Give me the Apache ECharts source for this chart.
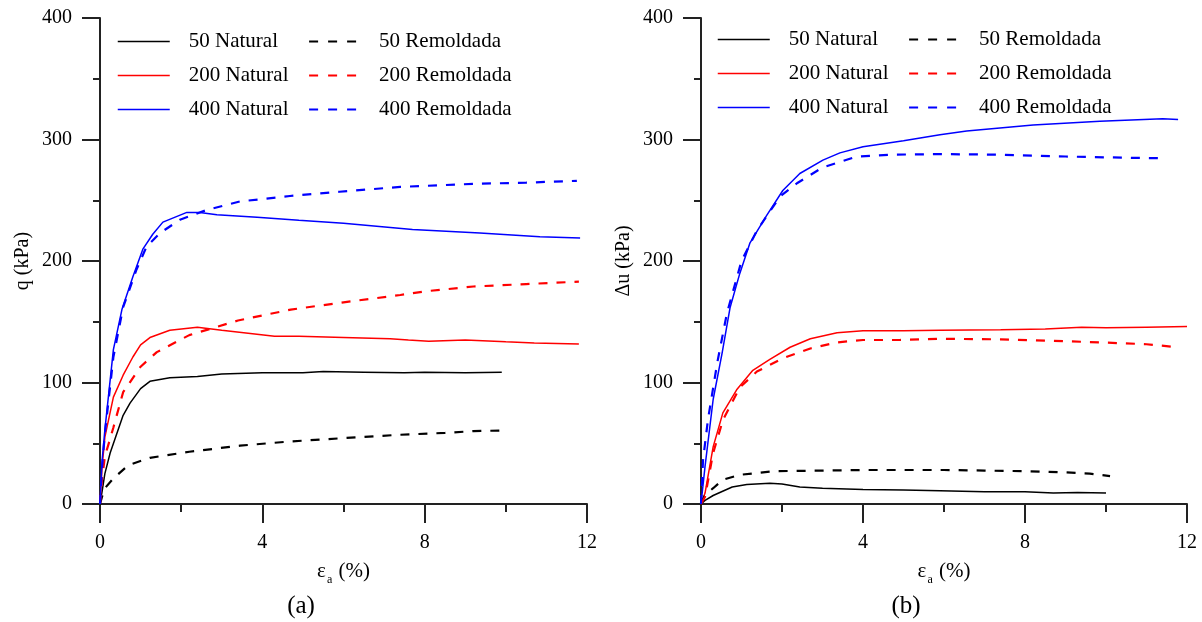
<!DOCTYPE html>
<html>
<head>
<meta charset="utf-8">
<script src="https://cdn.jsdelivr.net/npm/echarts@6/dist/echarts.min.js"></script>
<style>
html,body{margin:0;padding:0;background:#fff;}
#chart{width:1202px;height:622px;}
</style>
</head>
<body>
<div id="chart"></div>
<script>
// ---- tick labels / axes ----
const xTicks = [0, 4, 8, 12];
const yTicks = [0, 100, 200, 300, 400];

// ---- panel (a): q (kPa) vs axial strain (%) ----
const aNat50X = [0, 0.05, 0.12, 0.25, 0.57, 0.74, 1.0, 1.23, 1.72, 2.4, 3.0, 4.0, 5.0, 5.5, 6.5, 7.5, 8.0, 9.0, 9.9];
const aNat50Y = [0, 10, 25, 42, 73, 83, 95, 101, 104, 105, 107, 108, 108, 109, 108.5, 108, 108.5, 108, 108.5];
const aRem50X = [0, 0.05, 0.12, 0.33, 0.7, 1.23, 2.2, 3.45, 4.7, 5.9, 7.4, 8.5, 9.2, 9.9];
const aRem50Y = [0, 6, 13, 21, 32, 38, 43, 48, 51.5, 54, 57, 58.5, 60, 60.5];
const aNat200X = [0, 0.05, 0.12, 0.33, 0.57, 0.81, 1.0, 1.23, 1.72, 2.4, 3.0, 4.3, 4.9, 6.0, 7.15, 7.6, 8.1, 9.0, 10.0, 10.7, 11.8];
const aNat200Y = [0, 30, 55, 88, 106, 121, 131, 137, 143, 145.5, 143, 138, 138, 137, 136, 135, 134, 135, 133.5, 132.6, 131.7];
const aRem200X = [0, 0.05, 0.12, 0.33, 0.57, 1.0, 1.4, 2.2, 3.4, 4.7, 6.0, 7.4, 8.0, 9.2, 10.5, 11.8];
const aRem200Y = [0, 20, 39, 63, 92, 113, 125, 139, 151, 160, 166, 172, 175, 179, 181, 183];
const aNat400X = [0, 0.05, 0.12, 0.33, 0.54, 0.81, 1.06, 1.3, 1.55, 2.14, 2.46, 2.88, 3.87, 4.9, 6.0, 7.7, 9.36, 10.84, 11.83];
const aNat400Y = [0, 35, 61, 127, 160, 187, 210, 222, 232, 240, 240, 238, 236, 233.5, 231, 226, 223, 220, 219];
const aRem400X = [0, 0.05, 0.12, 0.33, 0.57, 0.9, 1.15, 1.48, 1.97, 2.63, 3.45, 4.68, 5.9, 7.4, 9.2, 10.5, 11.75];
const aRem400Y = [0, 30, 58, 121, 162, 193, 212, 223, 234, 242, 249, 253.5, 257, 261, 263.5, 264.5, 266];

// ---- panel (b): Δu (kPa) vs axial strain (%) ----
const bNat50X = [0, 0.1, 0.3, 0.77, 1.13, 1.7, 2.0, 2.44, 3.0, 4.0, 5.0, 5.9, 7.0, 8.0, 8.7, 9.3, 10.0];
const bNat50Y = [0, 3, 7, 14, 16, 17, 16.5, 14, 13, 12, 11.5, 11, 10, 10, 9, 9.5, 9];
const bRem50X = [0, 0.1, 0.3, 0.54, 0.96, 1.78, 3.0, 4.0, 5.0, 6.0, 7.0, 8.0, 9.0, 9.6, 10.1];
const bRem50Y = [0, 7.4, 13, 20, 24, 27, 27.5, 28, 28, 28, 27.5, 27, 26, 25, 23];
const bNat200X = [0, 0.1, 0.3, 0.54, 0.88, 1.28, 1.7, 2.2, 2.7, 3.36, 4.0, 5.0, 5.9, 7.4, 8.5, 9.4, 10.0, 11.0, 12.0];
const bNat200Y = [0, 9, 47, 75, 94, 110, 119, 129, 136, 141, 142.5, 142.5, 143, 143.5, 144, 145.5, 145, 145.5, 146];
const bRem200X = [0, 0.1, 0.3, 0.54, 0.96, 1.38, 2.02, 2.7, 3.36, 4.0, 4.9, 5.9, 7.4, 8.5, 9.85, 11.0, 11.78];
const bRem200Y = [0, 6, 42, 69, 96, 109, 120, 128, 133, 135, 135, 136, 135.5, 134.5, 133, 131.5, 129];
const bNat400X = [0, 0.1, 0.3, 0.52, 0.72, 0.96, 1.21, 1.63, 2.02, 2.44, 3.01, 3.43, 4.0, 5.0, 5.9, 6.56, 8.2, 9.85, 11.4, 11.78];
const bNat400Y = [0, 31, 86, 124, 162, 190, 215, 238, 258, 272, 283, 289, 294, 299, 304, 307, 312, 315, 317, 316.5];
const bRem400X = [0, 0.05, 0.17, 0.4, 0.64, 1.0, 1.38, 1.95, 2.37, 3.0, 3.85, 4.67, 5.9, 7.4, 9.0, 10.5, 11.5];
const bRem400Y = [0, 36, 69, 116, 157, 200, 225, 253, 264, 277, 286, 287.5, 288, 287.5, 286, 285, 284.5];

const natNames = ['50 Natural', '200 Natural', '400 Natural'];
const remNames = ['50 Remoldada', '200 Remoldada', '400 Remoldada'];
const colors = ['#000000', '#ff0000', '#0000ff'];
const panelLabels = ['(a)', '(b)'];
const yNames = ['q (kPa)', '\u0394u (kPa)'];

function zip(xs, ys) { return xs.map((x, i) => [x, ys[i]]); }

const FONT = '"Liberation Serif", "Times New Roman", serif';
const AX = '#222';
const DASH = [9, 9];

function mkSeries(name, xs, ys, idx, color, dashed) {
  return {
    type: 'line', name: name, xAxisIndex: idx, yAxisIndex: idx,
    data: zip(xs, ys), symbol: 'none', showSymbol: false, smooth: false, animation: false,
    lineStyle: { color: color, width: dashed ? 2.2 : 1.5, type: dashed ? DASH : 'solid' },
    itemStyle: { color: color }
  };
}

const series = [
  mkSeries(natNames[0], aNat50X, aNat50Y, 0, colors[0], false),
  mkSeries(natNames[1], aNat200X, aNat200Y, 0, colors[1], false),
  mkSeries(natNames[2], aNat400X, aNat400Y, 0, colors[2], false),
  mkSeries(remNames[0], aRem50X, aRem50Y, 0, colors[0], true),
  mkSeries(remNames[1], aRem200X, aRem200Y, 0, colors[1], true),
  mkSeries(remNames[2], aRem400X, aRem400Y, 0, colors[2], true),
  mkSeries(natNames[0], bNat50X, bNat50Y, 1, colors[0], false),
  mkSeries(natNames[1], bNat200X, bNat200Y, 1, colors[1], false),
  mkSeries(natNames[2], bNat400X, bNat400Y, 1, colors[2], false),
  mkSeries(remNames[0], bRem50X, bRem50Y, 1, colors[0], true),
  mkSeries(remNames[1], bRem200X, bRem200Y, 1, colors[1], true),
  mkSeries(remNames[2], bRem400X, bRem400Y, 1, colors[2], true)
];

const grids = [
  { left: 100, top: 18, width: 487, height: 486 },
  { left: 701, top: 18, width: 486, height: 486 }
];

function xAxis(i) {
  return {
    type: 'value', gridIndex: i, min: xTicks[0], max: xTicks[xTicks.length - 1], interval: xTicks[1] - xTicks[0],
    name: '{e|\u03b5}{s|a}{e| (%)}', nameLocation: 'middle', nameGap: 56,
    nameTextStyle: { rich: {
      e: { fontFamily: FONT, fontSize: 21, color: '#000', verticalAlign: 'bottom', lineHeight: 22 },
      s: { fontFamily: FONT, fontSize: 12, color: '#000', verticalAlign: 'bottom', lineHeight: 14, padding: [0, 1, -4, 1] }
    } },
    axisLine: { show: true, onZero: false, lineStyle: { color: AX, width: 2 } },
    axisTick: { show: true, inside: false, length: 19, lineStyle: { color: AX, width: 2 } },
    minorTick: { show: true, splitNumber: 2, length: 8, lineStyle: { color: AX, width: 2 } },
    axisLabel: { margin: 29, fontFamily: FONT, fontSize: 20, color: '#000' },
    splitLine: { show: false }, minorSplitLine: { show: false }
  };
}
function yAxis(i) {
  return {
    type: 'value', gridIndex: i, min: yTicks[0], max: yTicks[yTicks.length - 1], interval: yTicks[1] - yTicks[0],
    name: yNames[i], nameLocation: 'middle', nameGap: 67, nameRotate: 90,
    nameTextStyle: { fontFamily: FONT, fontSize: 20, color: '#000' },
    axisLine: { show: true, onZero: false, lineStyle: { color: AX, width: 2 } },
    axisTick: { show: true, inside: false, length: 18, lineStyle: { color: AX, width: 2 } },
    minorTick: { show: true, splitNumber: 2, length: 7, lineStyle: { color: AX, width: 2 } },
    axisLabel: { margin: 28, fontFamily: FONT, fontSize: 20, color: '#000' },
    splitLine: { show: false }, minorSplitLine: { show: false }
  };
}

function legend(names, dashed, left, top) {
  return {
    data: names.map((n, k) => ({
      name: n,
      lineStyle: { color: colors[k], width: dashed ? 2.2 : 1.5, type: dashed ? [9, 10] : 'solid' }
    })),
    orient: 'vertical', left: left, top: top,
    itemWidth: 49, itemHeight: 14, itemGap: 13, padding: 0,
    selectedMode: false,
    itemStyle: { opacity: 0 },
    textStyle: { fontFamily: FONT, fontSize: 21, color: '#000', lineHeight: 20, padding: [0, 0, 0, 16] }
  };
}

const option = {
  backgroundColor: '#fff',
  animation: false,
  grid: grids,
  xAxis: [xAxis(0), xAxis(1)],
  yAxis: [yAxis(0), yAxis(1)],
  legend: [
    Object.assign(legend(natNames, false, 117, 31), { itemWidth: 52, textStyle: { fontFamily: FONT, fontSize: 21, color: '#000', lineHeight: 20, padding: [0, 0, 0, 14] } }),
    legend(remNames, true, 308, 31),
    Object.assign(legend(natNames, false, 717, 29), { itemWidth: 52, textStyle: { fontFamily: FONT, fontSize: 21, color: '#000', lineHeight: 20, padding: [0, 0, 0, 14] } }),
    legend(remNames, true, 908, 29)
  ],
  graphic: [
    { type: 'text', x: 301, y: 606, style: { text: panelLabels[0], font: '25px ' + FONT, fill: '#000', textAlign: 'center', textVerticalAlign: 'middle' } },
    { type: 'text', x: 906, y: 606, style: { text: panelLabels[1], font: '25px ' + FONT, fill: '#000', textAlign: 'center', textVerticalAlign: 'middle' } }
  ],
  series: series
};

const chart = echarts.init(document.getElementById('chart'), null, { renderer: 'canvas' });
chart.setOption(option);
</script>
</body>
</html>
